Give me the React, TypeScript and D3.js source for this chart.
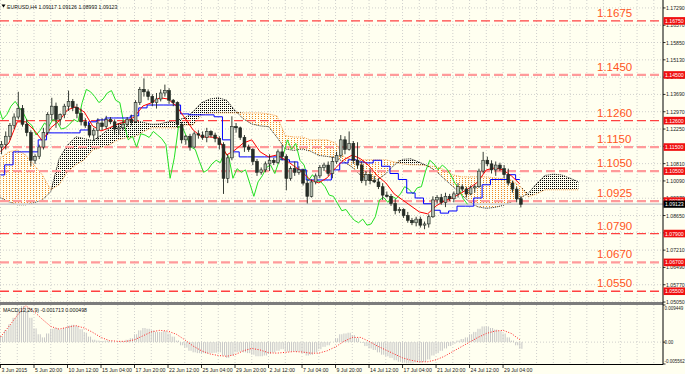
import React from "react";
import * as d3 from "d3";

// ---- Candles: each candle = two H4 bars (slot i covers bars 2i, 2i+1) ----
const opens = [1.1150,1.1160,1.1195,1.1240,1.1275,1.1310,1.1245,1.1210,1.1095,1.1110,
1.1150,1.1210,1.1285,1.1320,1.1265,1.1285,1.1320,1.1340,1.1315,1.1290,
1.1255,1.1240,1.1200,1.1220,1.1250,1.1235,1.1265,1.1255,1.1225,1.1230,
1.1245,1.1265,1.1255,1.1335,1.1390,1.1380,1.1360,1.1335,1.1350,1.1375,
1.1385,1.1345,1.1335,1.1245,1.1180,1.1195,1.1150,1.1205,1.1200,1.1190,
1.1215,1.1200,1.1185,1.1160,1.1020,1.1105,1.1235,1.1230,1.1190,1.1150,
1.1140,1.1090,1.1045,1.1055,1.1080,1.1095,1.1085,1.1130,1.1110,1.1020,
1.1060,1.1045,1.1055,1.1000,1.0945,1.1005,1.1030,1.1065,1.1075,1.1040,
1.1090,1.1115,1.1180,1.1140,1.1165,1.1095,1.1075,1.1010,1.1035,1.1010,
1.1005,1.0985,1.0950,1.0945,1.0915,1.0885,1.0890,1.0865,1.0845,1.0835,
1.0850,1.0825,1.0830,1.0860,1.0930,1.0940,1.0920,1.0945,1.0935,1.0955,
1.0985,1.0975,1.0955,1.0980,1.0985,1.1050,1.1095,1.1080,1.1055,1.1075,
1.1060,1.1035,1.1000,1.0975,1.0935];
const highs = [1.1175,1.1215,1.1250,1.1290,1.1380,1.1325,1.1265,1.1220,1.1120,1.1160,
1.1230,1.1295,1.1355,1.1335,1.1290,1.1330,1.1385,1.1350,1.1330,1.1310,
1.1270,1.1250,1.1230,1.1270,1.1270,1.1280,1.1275,1.1265,1.1250,1.1260,
1.1275,1.1285,1.1345,1.1400,1.1436,1.1390,1.1370,1.1375,1.1390,1.1410,
1.1395,1.1350,1.1340,1.1255,1.1200,1.1205,1.1215,1.1220,1.1215,1.1230,
1.1220,1.1210,1.1195,1.1170,1.1120,1.1278,1.1250,1.1235,1.1200,1.1160,
1.1145,1.1100,1.1065,1.1090,1.1120,1.1105,1.1140,1.1160,1.1120,1.1070,
1.1090,1.1070,1.1060,1.1015,1.1015,1.1040,1.1075,1.1085,1.1090,1.1110,
1.1130,1.1200,1.1195,1.1215,1.1175,1.1170,1.1090,1.1050,1.1060,1.1030,
1.1020,1.1000,1.0965,1.0955,1.0935,1.0900,1.0895,1.0880,1.0855,1.0860,
1.0860,1.0840,1.0870,1.0945,1.0950,1.0955,1.0960,1.0955,1.0965,1.1000,
1.0995,1.0985,1.0990,1.0995,1.1060,1.1130,1.1110,1.1095,1.1090,1.1085,
1.1075,1.1060,1.1010,1.0985,1.0945];
const lows = [1.1120,1.1140,1.1180,1.1225,1.1265,1.1235,1.1195,1.1070,1.1080,1.1100,
1.1140,1.1200,1.1260,1.1230,1.1240,1.1270,1.1300,1.1300,1.1270,1.1240,
1.1230,1.1190,1.1175,1.1180,1.1220,1.1225,1.1245,1.1205,1.1200,1.1220,
1.1235,1.1240,1.1250,1.1325,1.1360,1.1345,1.1320,1.1310,1.1340,1.1360,
1.1330,1.1320,1.1230,1.1165,1.1160,1.1135,1.1145,1.1185,1.1180,1.1170,
1.1190,1.1170,1.1140,1.0955,1.1000,1.1095,1.1210,1.1180,1.1130,1.1130,
1.1075,1.1030,1.1035,1.1045,1.1050,1.1075,1.1080,1.1095,1.0970,1.1010,
1.1030,1.1035,1.0990,1.0915,1.0940,1.0995,1.1020,1.1050,1.1030,1.1020,
1.1080,1.1105,1.1120,1.1135,1.1080,1.1060,1.1000,1.0990,1.0995,1.1000,
1.0975,1.0930,1.0940,1.0905,1.0870,1.0875,1.0855,1.0835,1.0825,1.0820,
1.0815,1.0808,1.0815,1.0855,1.0915,1.0910,1.0900,1.0925,1.0920,1.0940,
1.0965,1.0940,1.0950,1.0960,1.0980,1.1040,1.1070,1.1040,1.1030,1.1050,
1.1020,1.0990,1.0960,1.0920,1.0899];
const closes = [1.1160,1.1195,1.1240,1.1275,1.1310,1.1245,1.1210,1.1095,1.1110,1.1150,
1.1210,1.1285,1.1320,1.1265,1.1285,1.1320,1.1340,1.1315,1.1290,1.1255,
1.1240,1.1200,1.1220,1.1250,1.1235,1.1265,1.1255,1.1225,1.1230,1.1245,
1.1265,1.1255,1.1335,1.1390,1.1380,1.1360,1.1335,1.1350,1.1375,1.1385,
1.1345,1.1335,1.1245,1.1180,1.1195,1.1150,1.1205,1.1200,1.1190,1.1215,
1.1200,1.1185,1.1160,1.1020,1.1105,1.1235,1.1230,1.1190,1.1150,1.1140,
1.1090,1.1045,1.1055,1.1080,1.1095,1.1085,1.1130,1.1110,1.1020,1.1060,
1.1045,1.1055,1.1000,1.0945,1.1005,1.1030,1.1065,1.1075,1.1040,1.1090,
1.1115,1.1180,1.1140,1.1165,1.1095,1.1075,1.1010,1.1035,1.1010,1.1005,
1.0985,1.0950,1.0945,1.0915,1.0885,1.0890,1.0865,1.0845,1.0835,1.0850,
1.0825,1.0830,1.0860,1.0930,1.0940,1.0920,1.0945,1.0935,1.0955,1.0985,
1.0975,1.0955,1.0980,1.0985,1.1050,1.1095,1.1080,1.1055,1.1075,1.1060,
1.1035,1.1000,1.0975,1.0935,1.0912];

// ---- Ichimoku lines, sampled every 4 H4 bars (k -> bar 4k) ----
const tenkan = [1.1130,1.1167,1.1255,1.1255,1.1221,1.1176,1.1230,1.1259,1.1305,1.1317,
1.1296,1.1238,1.1217,1.1230,1.1246,1.1255,1.1276,1.1321,1.1334,1.1355,
1.1350,1.1321,1.1271,1.1221,1.1192,1.1192,1.1188,1.1117,1.1138,1.1167,
1.1180,1.1130,1.1109,1.1117,1.1097,1.1072,1.1047,1.1013,1.1001,1.1022,
1.1063,1.1097,1.1117,1.1101,1.1072,1.1030,1.1001,1.0955,1.0930,1.0905,
1.0880,1.0872,1.0905,1.0926,1.0939,1.0959,1.0980,1.1005,1.1055,1.1063,
1.1055,1.1030,1.0997];
const kijun = [1.1034,1.1076,1.1130,1.1130,1.1130,1.1180,1.1209,1.1209,1.1209,1.1209,
1.1221,1.1255,1.1263,1.1271,1.1271,1.1271,1.1280,1.1313,1.1325,1.1325,
1.1325,1.1325,1.1288,1.1284,1.1284,1.1284,1.1276,1.1180,1.1130,1.1109,
1.1109,1.1109,1.1109,1.1109,1.1097,1.1088,1.1055,1.1013,1.1013,1.1013,
1.1055,1.1084,1.1097,1.1088,1.1084,1.1095,1.1070,1.1040,1.1015,1.0959,
1.0938,1.0914,1.0887,1.0875,1.0884,1.0904,1.0904,1.0938,1.0993,1.1015,
1.1015,1.1035,1.1015];
const senkouA = [1.0939,1.0922,1.0910,1.0910,1.0918,1.0930,1.0964,1.1102,1.1158,1.1193,
1.1185,1.1177,1.1199,1.1227,1.1246,1.1260,1.1261,1.1253,1.1244,1.1246,
1.1255,1.1261,1.1271,1.1298,1.1335,1.1350,1.1355,1.1345,1.1302,1.1267,
1.1246,1.1238,1.1235,1.1191,1.1142,1.1136,1.1142,1.1133,1.1115,1.1111,
1.1105,1.1089,1.1066,1.1032,1.1010,1.1013,1.1039,1.1075,1.1099,1.1101,
1.1087,1.1071,1.1050,1.1017,1.0986,1.0953,1.0921,1.0901,1.0895,1.0899,
1.0907,1.0922,1.0937,1.0957,1.0998,1.1032,1.1037,1.1034,1.1020,1.1006];
const senkouB = [1.1105,1.1130,1.1138,1.1117,1.1076,1.1034,1.0972,1.0993,1.1047,1.1076,
1.1097,1.1138,1.1147,1.1159,1.1180,1.1188,1.1192,1.1213,1.1230,1.1230,
1.1230,1.1230,1.1242,1.1242,1.1284,1.1292,1.1292,1.1292,1.1292,1.1292,
1.1292,1.1292,1.1288,1.1280,1.1197,1.1192,1.1192,1.1180,1.1180,1.1180,
1.1167,1.1109,1.1097,1.1097,1.1097,1.1097,1.1097,1.1088,1.1080,1.1076,
1.1076,1.1072,1.1068,1.1055,1.1034,1.1026,1.1026,1.1026,1.1026,1.1022,
1.1018,1.1013,1.0988,1.0943,1.0955,1.0972,1.0972,1.0972,1.0972,1.0972];

// ---- MACD(12,26,9) ----
const macdHist = [0.0015,0.0030,0.0045,0.0062,0.0080,0.0092,0.0088,0.0062,0.0035,0.0020,
0.0012,0.0022,0.0034,0.0036,0.0032,0.0036,0.0042,0.0044,0.0041,0.0033,
0.0024,0.0014,0.0006,0.0004,0.0003,0.0004,0.0003,0.0000,0.0001,0.0002,
0.0006,0.0010,0.0020,0.0030,0.0036,0.0034,0.0030,0.0026,0.0026,0.0028,
0.0022,0.0014,0.0004,-0.0008,-0.0014,-0.0022,-0.0026,-0.0028,-0.0028,-0.0029,
-0.0028,-0.0027,-0.0026,-0.0034,-0.0040,-0.0034,-0.0026,-0.0024,-0.0026,-0.0028,
-0.0032,-0.0036,-0.0036,-0.0034,-0.0030,-0.0026,-0.0022,-0.0018,-0.0024,-0.0024,
-0.0024,-0.0024,-0.0028,-0.0034,-0.0032,-0.0026,-0.0018,-0.0012,-0.0008,0.0000,
0.0010,0.0020,0.0022,0.0024,0.0018,0.0010,-0.0002,-0.0010,-0.0016,-0.0020,
-0.0026,-0.0032,-0.0036,-0.0040,-0.0046,-0.0050,-0.0052,-0.0054,-0.0054,-0.0052,
-0.0052,-0.0050,-0.0044,-0.0034,-0.0028,-0.0022,-0.0016,-0.0010,-0.0004,0.0004,
0.0008,0.0012,0.0020,0.0026,0.0034,0.0040,0.0040,0.0036,0.0032,0.0028,
0.0022,0.0012,0.0004,-0.0008,-0.0017];
const macdSignal = [0.0013,0.0040,0.0068,0.0093,0.0078,0.0058,0.0040,0.0033,0.0038,0.0042,
0.0036,0.0025,0.0012,0.0004,0.0002,0.0002,0.0006,0.0016,0.0026,0.0030,
0.0028,0.0020,0.0006,-0.0010,-0.0022,-0.0030,-0.0034,-0.0036,-0.0032,-0.0022,
-0.0016,-0.0020,-0.0027,-0.0028,-0.0026,-0.0024,-0.0025,-0.0028,-0.0028,-0.0022,
-0.0012,0.0002,0.0012,0.0012,0.0002,-0.0010,-0.0020,-0.0030,-0.0040,-0.0046,
-0.0050,-0.0050,-0.0045,-0.0036,-0.0024,-0.0012,0.0000,0.0012,0.0022,0.0028,
0.0030,0.0022,0.0006];

// ---- Levels and ticks ----
const levels = [1.1675, 1.1450, 1.1260, 1.1150, 1.1050, 1.0925, 1.0790, 1.0670, 1.0550];
const levelKinds = ["strong","light","strong","light","light","light","strong","light","strong"];
const priceTicks = [1.1729,1.1657,1.1585,1.1513,1.1441,1.1369,1.1297,1.1225,1.1153,1.1081,
1.1009,1.0937,1.0865,1.0793,1.0721,1.0649,1.0577,1.0505];
const timeLabels = ["3 Jun 2015","5 Jun 20:00","10 Jun 12:00","15 Jun 04:00","17 Jun 20:00",
"22 Jun 12:00","25 Jun 04:00","29 Jun 20:00","2 Jul 12:00","7 Jul 04:00","9 Jul 20:00",
"14 Jul 12:00","17 Jul 04:00","21 Jul 20:00","24 Jul 12:00","29 Jul 04:00"];
const lastPrice = 1.09123;
const titleText = "EURUSD,H4  1.09117 1.09126 1.08993 1.09123";
const macdTitle = "MACD(12,26,9) -0.001713 0.000498";
const macdTicks = [0.009449, 0.0, -0.005562];
const macdTickText = ["0.009449", "0.00", "-0.005562"];

const FONT = "'Liberation Sans', Arial, sans-serif";

export default function App() {
  const W = 685, H = 374;
  const plotR = 663;
  const x = d3.scaleLinear().domain([0, 316]).range([0.5, 662.2]);
  const y = d3.scaleLinear().domain([1.0501, 1.1762]).range([303, 0]);
  const ym = d3.scaleLinear().domain([-0.005562, 0.009449]).range([364, 305]);
  const kx = (k: number) => x(k * 4);

  const lineK = d3.line<number>().x((_, k) => kx(k)).y((v) => y(v));
  const tenkanPath = lineK(tenkan) || "";
  const kijunPath = d3.line<number>().x((_, k) => kx(k)).y((v) => y(v)).curve(d3.curveStep)(kijun) || "";
  const spanAPath = lineK(senkouA) || "";
  const spanBPath = lineK(senkouB) || "";

  const orangeArea = d3.area<number>()
    .x((_, k) => kx(k))
    .y0((_, k) => y(senkouA[k]))
    .y1((_, k) => y(Math.max(senkouA[k], senkouB[k])))(senkouA) || "";
  const blackArea = d3.area<number>()
    .x((_, k) => kx(k))
    .y0((_, k) => y(senkouB[k]))
    .y1((_, k) => y(Math.max(senkouA[k], senkouB[k])))(senkouB) || "";

  const chikouPts = closes.map((c, i) => [2 * i + 1 - 26, c] as [number, number]).filter((p) => p[0] >= -2);
  const chikouPath = d3.line<[number, number]>().x((p) => x(p[0])).y((p) => y(p[1]))(chikouPts) || "";

  const signalPath = d3.line<number>().x((_, k) => kx(k)).y((v) => ym(v))(macdSignal) || "";

  const vGrid = d3.range(0, 40).map((j) => x(j * 8));
  const small = 5.2;

  return (
    <div style={{ position: "absolute", left: 0, top: 0, width: W, height: H }}>
      <svg width={W} height={H} style={{ display: "block", fontFamily: FONT }}>
        <defs>
          <pattern id="dotO" width="3" height="2" patternUnits="userSpaceOnUse">
            <rect width="1" height="1" fill="#f08a20" shapeRendering="crispEdges" />
          </pattern>
          <pattern id="dotB" width="2" height="2" patternUnits="userSpaceOnUse">
            <rect width="1" height="1" fill="#000" shapeRendering="crispEdges" />
          </pattern>
          <clipPath id="mainClip"><rect x="0" y="0" width={plotR} height="302" /></clipPath>
          <clipPath id="macdClip"><rect x="0" y="305" width={plotR} height="59" /></clipPath>
        </defs>
        <rect x="0" y="0" width={W} height={H} fill="#fffff0" />

        {/* grid */}
        <g stroke="#c4c4c4" strokeWidth="0.8" strokeDasharray="1,2">
          {vGrid.map((gx, j) => (
            <g key={j}>
              <line x1={gx} x2={gx} y1={0} y2={302} />
              <line x1={gx} x2={gx} y1={305} y2={364} />
            </g>
          ))}
          {priceTicks.map((p, j) => (
            <line key={"h" + j} x1={0} x2={plotR} y1={y(p)} y2={y(p)} />
          ))}
          <line x1={0} x2={plotR} y1={ym(0)} y2={ym(0)} />
        </g>

        <g clipPath="url(#mainClip)">
          {/* cloud */}
          <path d={orangeArea} fill="url(#dotO)" />
          <path d={blackArea} fill="url(#dotB)" />
          <path d={spanBPath} fill="none" stroke="#f4a050" strokeWidth="1" strokeDasharray="1,1" />
          <path d={spanAPath} fill="none" stroke="#222" strokeWidth="1" strokeDasharray="1,1" />

          {/* last price line */}
          <line x1={0} x2={plotR} y1={y(lastPrice)} y2={y(lastPrice)} stroke="#cfcfcf" strokeWidth="1.6" />

          {/* levels */}
          {levels.map((lv, j) => (
            <line key={"lv" + j} x1={0} x2={plotR} y1={y(lv)} y2={y(lv)}
              stroke={levelKinds[j] === "strong" ? "#ff4040" : "#ff9a9a"}
              strokeWidth={levelKinds[j] === "strong" ? 1.3 : 2.2}
              strokeDasharray="9,4" />
          ))}

          {/* lines */}
          <path d={chikouPath} fill="none" stroke="#22e022" strokeWidth="1" />
          <path d={kijunPath} fill="none" stroke="#0000ff" strokeWidth="1" />
          <path d={tenkanPath} fill="none" stroke="#ff0000" strokeWidth="1" />

          {/* candles */}
          {closes.map((c, i) => {
            const cx = x(2 * i + 0.5);
            const o = opens[i];
            const bull = c >= o;
            const top = y(Math.max(o, c));
            const h = Math.max(0.8, Math.abs(y(o) - y(c)));
            return (
              <g key={"c" + i}>
                <line x1={cx} x2={cx} y1={y(highs[i])} y2={y(lows[i])} stroke="#1f261f" strokeWidth="0.9" />
                <rect x={cx - 1.4} y={top} width={2.8} height={h}
                  fill={bull ? "#b3bcae" : "#262d26"} stroke="#1f261f" strokeWidth="0.6" />
              </g>
            );
          })}

          {/* level labels */}
          {levels.map((lv, j) => (
            <text key={"lt" + j} x={597} y={y(lv) - 4} fontSize="11.5" fill="#ff5522">{lv.toFixed(4)}</text>
          ))}
        </g>

        {/* MACD */}
        <g clipPath="url(#macdClip)">
          {macdHist.map((v, i) => (
            <g key={"m" + i} stroke="#c6c6c6" strokeWidth="1">
              <line x1={x(2 * i)} x2={x(2 * i)} y1={ym(0)} y2={ym(v)} />
              <line x1={x(2 * i + 1)} x2={x(2 * i + 1)} y1={ym(0)} y2={ym(v)} />
            </g>
          ))}
          <path d={signalPath} fill="none" stroke="#ff2020" strokeWidth="1" strokeDasharray="1,1.6" />
        </g>

        {/* separators & axes */}
        <rect x={0} y={302} width={plotR} height={3} fill="#7c7c7c" />
        <line x1={plotR} x2={plotR} y1={0} y2={364.5} stroke="#000" strokeWidth="1" />
        <line x1={0} x2={plotR} y1={364.5} y2={364.5} stroke="#000" strokeWidth="1" />

        {/* price axis labels */}
        {priceTicks.map((p, j) => (
          <g key={"pt" + j}>
            <line x1={plotR} x2={plotR + 2.5} y1={y(p)} y2={y(p)} stroke="#000" strokeWidth="0.8" />
            <text x={666} y={y(p) + 2} fontSize={small} fill="#222">{p.toFixed(5)}</text>
          </g>
        ))}
        {levels.map((lv, j) => (
          <g key={"lb" + j}>
            <rect x={plotR + 0.5} y={y(lv) - 3.8} width={21.5} height={7.6} fill="#f01010" />
            <text x={665} y={y(lv) + 2} fontSize={small} fill="#fff">{lv.toFixed(5)}</text>
          </g>
        ))}
        <rect x={plotR + 0.5} y={y(lastPrice) - 3.6} width={21.5} height={7.2} fill="#000" />
        <text x={665} y={y(lastPrice) + 2} fontSize={small} fill="#fff">{lastPrice.toFixed(5)}</text>

        {/* MACD axis */}
        {macdTicks.map((v, j) => (
          <g key={"mt" + j}>
            <line x1={plotR} x2={plotR + 2.5} y1={ym(v)} y2={ym(v)} stroke="#000" strokeWidth="0.8" />
            <text x={664.5} y={Math.min(Math.max(ym(v) + 2, 310), 363)} fontSize="4.5" fill="#222">{macdTickText[j]}</text>
          </g>
        ))}

        {/* time axis */}
        {timeLabels.map((t, j) => {
          const tx = x(j * 16);
          return (
            <g key={"tl" + j}>
              <line x1={tx} x2={tx} y1={364.5} y2={368} stroke="#000" strokeWidth="0.8" />
              <text x={tx + 1} y={371.5} fontSize={small} fill="#222">{t}</text>
            </g>
          );
        })}

        {/* titles */}
        <path d="M1.5,4.5 L5.5,4.5 L3.5,7.5 Z" fill="#000" />
        <text x={7} y={8.5} fontSize={small} fill="#111">{titleText}</text>
        <text x={3} y={312} fontSize={small} fill="#111">{macdTitle}</text>
      </svg>
    </div>
  );
}
